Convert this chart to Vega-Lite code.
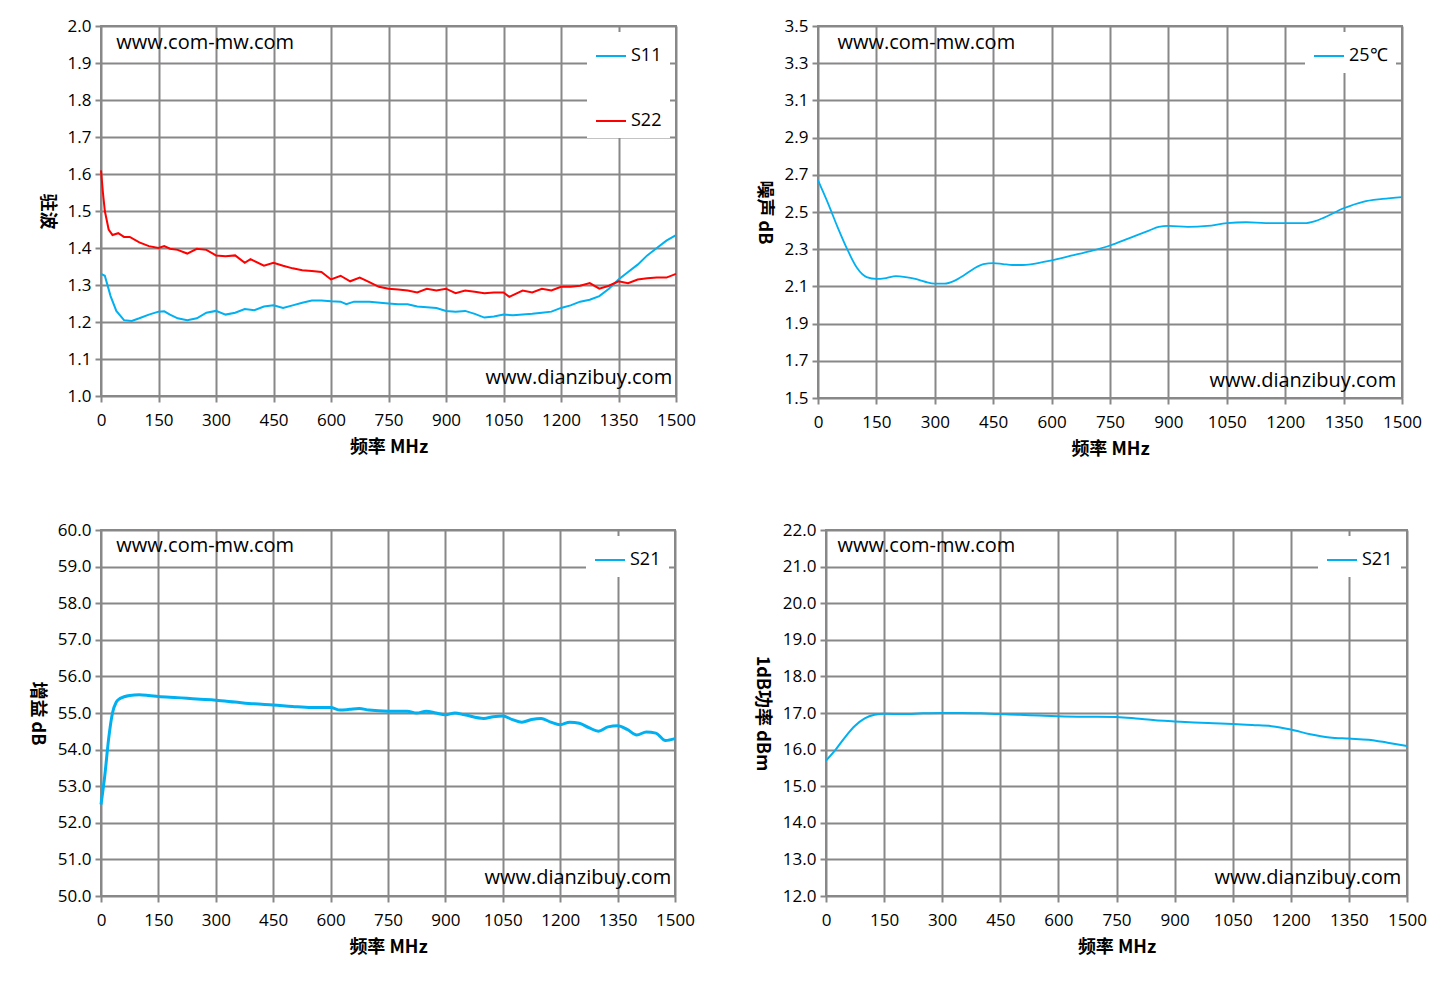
{
  "$schema": "https://vega.github.io/schema/vega-lite/v6.json",
  "background": "white",
  "padding": {"left": 26, "top": 16, "right": 10, "bottom": 5},
  "config": {
    "view": {"stroke": "#888", "strokeWidth": 2},
    "axis": {
      "grid": true, "gridColor": "#888", "gridWidth": 2, "domain": false,
      "tickColor": "#888", "tickSize": 6, "tickWidth": 2,
      "labelFont": "Open Sans", "labelFontSize": 17, "labelColor": "#000", "labelPadding": 4,
      "titleFont": "Noto Sans CJK SC", "titleFontSize": 18, "titleFontWeight": "bold", "titleColor": "#000"
    },
    "axisX": {"titlePadding": 10, "labelOverlap": false, "labelFlush": false, "labelPadding": 10, "format": "d", "labelFontSize": 17},
    "axisY": {"titleAngle": 90, "titleBaseline": "top", "titlePadding": 12},
    "legend": {
      "orient": "top-right", "title": null, "fillColor": "white", "padding": 8, "offset": 6,
      "symbolType": "stroke", "symbolSize": 900, "symbolStrokeWidth": 2,
      "labelFont": "Open Sans", "labelFontSize": 18, "labelColor": "#000"
    },
    "text": {"font": "Open Sans", "fontSize": 20, "color": "#000"}
  },
  "datasets": {
    "vswr": [
      {"f":0,"v":1.33,"s":"S11"},{"f":10,"v":1.325,"s":"S11"},{"f":25,"v":1.27,"s":"S11"},{"f":40,"v":1.23,"s":"S11"},{"f":60,"v":1.205,"s":"S11"},{"f":80,"v":1.203,"s":"S11"},{"f":100,"v":1.21,"s":"S11"},{"f":125,"v":1.22,"s":"S11"},{"f":150,"v":1.228,"s":"S11"},{"f":165,"v":1.229,"s":"S11"},{"f":180,"v":1.22,"s":"S11"},{"f":200,"v":1.21,"s":"S11"},{"f":225,"v":1.205,"s":"S11"},{"f":250,"v":1.21,"s":"S11"},{"f":275,"v":1.225,"s":"S11"},{"f":300,"v":1.23,"s":"S11"},{"f":325,"v":1.22,"s":"S11"},{"f":350,"v":1.225,"s":"S11"},{"f":375,"v":1.235,"s":"S11"},{"f":400,"v":1.232,"s":"S11"},{"f":425,"v":1.242,"s":"S11"},{"f":450,"v":1.245,"s":"S11"},{"f":475,"v":1.238,"s":"S11"},{"f":500,"v":1.245,"s":"S11"},{"f":525,"v":1.252,"s":"S11"},{"f":550,"v":1.258,"s":"S11"},{"f":575,"v":1.258,"s":"S11"},{"f":600,"v":1.256,"s":"S11"},{"f":625,"v":1.255,"s":"S11"},{"f":640,"v":1.248,"s":"S11"},{"f":660,"v":1.255,"s":"S11"},{"f":700,"v":1.255,"s":"S11"},{"f":750,"v":1.25,"s":"S11"},{"f":775,"v":1.248,"s":"S11"},{"f":800,"v":1.248,"s":"S11"},{"f":825,"v":1.242,"s":"S11"},{"f":850,"v":1.24,"s":"S11"},{"f":875,"v":1.238,"s":"S11"},{"f":900,"v":1.23,"s":"S11"},{"f":925,"v":1.228,"s":"S11"},{"f":950,"v":1.23,"s":"S11"},{"f":975,"v":1.222,"s":"S11"},{"f":1000,"v":1.212,"s":"S11"},{"f":1025,"v":1.215,"s":"S11"},{"f":1050,"v":1.22,"s":"S11"},{"f":1075,"v":1.218,"s":"S11"},{"f":1100,"v":1.22,"s":"S11"},{"f":1125,"v":1.222,"s":"S11"},{"f":1150,"v":1.225,"s":"S11"},{"f":1175,"v":1.228,"s":"S11"},{"f":1200,"v":1.238,"s":"S11"},{"f":1225,"v":1.245,"s":"S11"},{"f":1250,"v":1.255,"s":"S11"},{"f":1275,"v":1.26,"s":"S11"},{"f":1300,"v":1.27,"s":"S11"},{"f":1325,"v":1.29,"s":"S11"},{"f":1350,"v":1.315,"s":"S11"},{"f":1375,"v":1.335,"s":"S11"},{"f":1400,"v":1.355,"s":"S11"},{"f":1425,"v":1.38,"s":"S11"},{"f":1450,"v":1.4,"s":"S11"},{"f":1475,"v":1.42,"s":"S11"},{"f":1500,"v":1.435,"s":"S11"},
      {"f":0,"v":1.61,"s":"S22"},{"f":5,"v":1.55,"s":"S22"},{"f":10,"v":1.5,"s":"S22"},{"f":20,"v":1.45,"s":"S22"},{"f":30,"v":1.435,"s":"S22"},{"f":45,"v":1.44,"s":"S22"},{"f":60,"v":1.43,"s":"S22"},{"f":75,"v":1.43,"s":"S22"},{"f":100,"v":1.415,"s":"S22"},{"f":125,"v":1.405,"s":"S22"},{"f":150,"v":1.4,"s":"S22"},{"f":165,"v":1.405,"s":"S22"},{"f":180,"v":1.398,"s":"S22"},{"f":200,"v":1.395,"s":"S22"},{"f":225,"v":1.385,"s":"S22"},{"f":250,"v":1.398,"s":"S22"},{"f":275,"v":1.395,"s":"S22"},{"f":300,"v":1.38,"s":"S22"},{"f":325,"v":1.378,"s":"S22"},{"f":350,"v":1.38,"s":"S22"},{"f":375,"v":1.36,"s":"S22"},{"f":390,"v":1.37,"s":"S22"},{"f":425,"v":1.352,"s":"S22"},{"f":450,"v":1.36,"s":"S22"},{"f":475,"v":1.352,"s":"S22"},{"f":500,"v":1.345,"s":"S22"},{"f":525,"v":1.34,"s":"S22"},{"f":550,"v":1.338,"s":"S22"},{"f":575,"v":1.335,"s":"S22"},{"f":600,"v":1.315,"s":"S22"},{"f":625,"v":1.325,"s":"S22"},{"f":650,"v":1.31,"s":"S22"},{"f":675,"v":1.32,"s":"S22"},{"f":700,"v":1.308,"s":"S22"},{"f":725,"v":1.295,"s":"S22"},{"f":750,"v":1.29,"s":"S22"},{"f":775,"v":1.288,"s":"S22"},{"f":800,"v":1.285,"s":"S22"},{"f":825,"v":1.28,"s":"S22"},{"f":850,"v":1.29,"s":"S22"},{"f":875,"v":1.285,"s":"S22"},{"f":900,"v":1.29,"s":"S22"},{"f":925,"v":1.278,"s":"S22"},{"f":950,"v":1.285,"s":"S22"},{"f":975,"v":1.282,"s":"S22"},{"f":1000,"v":1.278,"s":"S22"},{"f":1025,"v":1.28,"s":"S22"},{"f":1050,"v":1.28,"s":"S22"},{"f":1065,"v":1.268,"s":"S22"},{"f":1100,"v":1.285,"s":"S22"},{"f":1125,"v":1.28,"s":"S22"},{"f":1150,"v":1.29,"s":"S22"},{"f":1175,"v":1.285,"s":"S22"},{"f":1200,"v":1.295,"s":"S22"},{"f":1225,"v":1.295,"s":"S22"},{"f":1250,"v":1.298,"s":"S22"},{"f":1275,"v":1.305,"s":"S22"},{"f":1300,"v":1.29,"s":"S22"},{"f":1325,"v":1.298,"s":"S22"},{"f":1350,"v":1.31,"s":"S22"},{"f":1375,"v":1.305,"s":"S22"},{"f":1400,"v":1.315,"s":"S22"},{"f":1425,"v":1.318,"s":"S22"},{"f":1450,"v":1.32,"s":"S22"},{"f":1475,"v":1.32,"s":"S22"},{"f":1500,"v":1.33,"s":"S22"}
    ],
    "noise": [
      {"f":0,"v":2.67,"s":"25℃"},{"f":25,"v":2.55,"s":"25℃"},{"f":50,"v":2.42,"s":"25℃"},{"f":75,"v":2.3,"s":"25℃"},{"f":100,"v":2.2,"s":"25℃"},{"f":125,"v":2.15,"s":"25℃"},{"f":150,"v":2.14,"s":"25℃"},{"f":175,"v":2.145,"s":"25℃"},{"f":200,"v":2.155,"s":"25℃"},{"f":225,"v":2.15,"s":"25℃"},{"f":250,"v":2.14,"s":"25℃"},{"f":275,"v":2.125,"s":"25℃"},{"f":300,"v":2.115,"s":"25℃"},{"f":325,"v":2.115,"s":"25℃"},{"f":350,"v":2.13,"s":"25℃"},{"f":375,"v":2.16,"s":"25℃"},{"f":400,"v":2.195,"s":"25℃"},{"f":425,"v":2.22,"s":"25℃"},{"f":450,"v":2.225,"s":"25℃"},{"f":475,"v":2.22,"s":"25℃"},{"f":500,"v":2.215,"s":"25℃"},{"f":525,"v":2.215,"s":"25℃"},{"f":550,"v":2.22,"s":"25℃"},{"f":600,"v":2.24,"s":"25℃"},{"f":650,"v":2.265,"s":"25℃"},{"f":700,"v":2.29,"s":"25℃"},{"f":750,"v":2.32,"s":"25℃"},{"f":800,"v":2.36,"s":"25℃"},{"f":850,"v":2.4,"s":"25℃"},{"f":875,"v":2.42,"s":"25℃"},{"f":900,"v":2.425,"s":"25℃"},{"f":950,"v":2.42,"s":"25℃"},{"f":1000,"v":2.425,"s":"25℃"},{"f":1050,"v":2.44,"s":"25℃"},{"f":1100,"v":2.445,"s":"25℃"},{"f":1150,"v":2.44,"s":"25℃"},{"f":1200,"v":2.44,"s":"25℃"},{"f":1250,"v":2.44,"s":"25℃"},{"f":1275,"v":2.45,"s":"25℃"},{"f":1300,"v":2.47,"s":"25℃"},{"f":1350,"v":2.52,"s":"25℃"},{"f":1400,"v":2.555,"s":"25℃"},{"f":1450,"v":2.57,"s":"25℃"},{"f":1500,"v":2.58,"s":"25℃"}
    ],
    "gain": [
      {"f":0,"v":52.5,"s":"S21"},{"f":10,"v":53.3,"s":"S21"},{"f":20,"v":54.3,"s":"S21"},{"f":30,"v":55.0,"s":"S21"},{"f":40,"v":55.3,"s":"S21"},{"f":50,"v":55.4,"s":"S21"},{"f":75,"v":55.48,"s":"S21"},{"f":100,"v":55.5,"s":"S21"},{"f":125,"v":55.48,"s":"S21"},{"f":150,"v":55.45,"s":"S21"},{"f":200,"v":55.42,"s":"S21"},{"f":250,"v":55.38,"s":"S21"},{"f":300,"v":55.35,"s":"S21"},{"f":350,"v":55.3,"s":"S21"},{"f":400,"v":55.25,"s":"S21"},{"f":450,"v":55.22,"s":"S21"},{"f":500,"v":55.18,"s":"S21"},{"f":550,"v":55.15,"s":"S21"},{"f":600,"v":55.15,"s":"S21"},{"f":625,"v":55.08,"s":"S21"},{"f":650,"v":55.1,"s":"S21"},{"f":675,"v":55.12,"s":"S21"},{"f":700,"v":55.08,"s":"S21"},{"f":750,"v":55.05,"s":"S21"},{"f":800,"v":55.05,"s":"S21"},{"f":825,"v":55.0,"s":"S21"},{"f":850,"v":55.05,"s":"S21"},{"f":875,"v":55.0,"s":"S21"},{"f":900,"v":54.95,"s":"S21"},{"f":925,"v":55.0,"s":"S21"},{"f":950,"v":54.95,"s":"S21"},{"f":1000,"v":54.85,"s":"S21"},{"f":1025,"v":54.9,"s":"S21"},{"f":1050,"v":54.92,"s":"S21"},{"f":1075,"v":54.82,"s":"S21"},{"f":1100,"v":54.75,"s":"S21"},{"f":1125,"v":54.82,"s":"S21"},{"f":1150,"v":54.85,"s":"S21"},{"f":1175,"v":54.75,"s":"S21"},{"f":1200,"v":54.68,"s":"S21"},{"f":1225,"v":54.75,"s":"S21"},{"f":1250,"v":54.72,"s":"S21"},{"f":1275,"v":54.6,"s":"S21"},{"f":1300,"v":54.5,"s":"S21"},{"f":1325,"v":54.62,"s":"S21"},{"f":1350,"v":54.65,"s":"S21"},{"f":1375,"v":54.55,"s":"S21"},{"f":1400,"v":54.4,"s":"S21"},{"f":1425,"v":54.48,"s":"S21"},{"f":1450,"v":54.45,"s":"S21"},{"f":1475,"v":54.25,"s":"S21"},{"f":1500,"v":54.3,"s":"S21"}
    ],
    "p1db": [
      {"f":0,"v":15.7,"s":"S21"},{"f":25,"v":16.0,"s":"S21"},{"f":50,"v":16.35,"s":"S21"},{"f":75,"v":16.65,"s":"S21"},{"f":100,"v":16.85,"s":"S21"},{"f":125,"v":16.95,"s":"S21"},{"f":150,"v":16.98,"s":"S21"},{"f":200,"v":16.97,"s":"S21"},{"f":250,"v":16.99,"s":"S21"},{"f":300,"v":17.0,"s":"S21"},{"f":350,"v":17.0,"s":"S21"},{"f":400,"v":16.99,"s":"S21"},{"f":450,"v":16.97,"s":"S21"},{"f":500,"v":16.95,"s":"S21"},{"f":550,"v":16.93,"s":"S21"},{"f":600,"v":16.91,"s":"S21"},{"f":650,"v":16.9,"s":"S21"},{"f":700,"v":16.9,"s":"S21"},{"f":750,"v":16.89,"s":"S21"},{"f":800,"v":16.85,"s":"S21"},{"f":850,"v":16.8,"s":"S21"},{"f":900,"v":16.77,"s":"S21"},{"f":950,"v":16.74,"s":"S21"},{"f":1000,"v":16.72,"s":"S21"},{"f":1050,"v":16.7,"s":"S21"},{"f":1100,"v":16.67,"s":"S21"},{"f":1150,"v":16.64,"s":"S21"},{"f":1200,"v":16.55,"s":"S21"},{"f":1250,"v":16.42,"s":"S21"},{"f":1300,"v":16.33,"s":"S21"},{"f":1350,"v":16.3,"s":"S21"},{"f":1400,"v":16.27,"s":"S21"},{"f":1450,"v":16.19,"s":"S21"},{"f":1500,"v":16.1,"s":"S21"}
    ]
  },
  "vconcat": [
    {
      "hconcat": [
        {
          "width": 575, "height": 370,
          "encoding": {
            "x": {"field": "f", "type": "quantitative", "scale": {"domain": [0, 1500], "nice": false}, "title": "频率 MHz", "axis": {"values": [0,150,300,450,600,750,900,1050,1200,1350,1500]}},
            "y": {"field": "v", "type": "quantitative", "scale": {"domain": [1.0, 2.0], "nice": false}, "title": "驻波", "axis": {"values": [1.0,1.1,1.2,1.3,1.4,1.5,1.6,1.7,1.8,1.9,2.0], "format": ".1f"}}
          },
          "layer": [
            {
              "data": {"name": "vswr"},
              "mark": {"type": "line", "strokeWidth": 2},
              "encoding": {
                "color": {"field": "s", "type": "nominal", "scale": {"domain": ["S11", "S22"], "range": ["#00B0F0", "#FF0000"]}, "legend": {"rowPadding": 40}}
              }
            },
            {
              "data": {"values": [{"f": 40, "v": 1.955, "t": "www.com-mw.com"}]},
              "mark": {"type": "text", "align": "left"},
              "encoding": {"text": {"field": "t"}}
            },
            {
              "data": {"values": [{"f": 1490, "v": 1.05, "t": "www.dianzibuy.com"}]},
              "mark": {"type": "text", "align": "right"},
              "encoding": {"text": {"field": "t"}}
            }
          ]
        },
        {
          "width": 584, "height": 372,
          "encoding": {
            "x": {"field": "f", "type": "quantitative", "scale": {"domain": [0, 1500], "nice": false}, "title": "频率 MHz", "axis": {"values": [0,150,300,450,600,750,900,1050,1200,1350,1500]}},
            "y": {"field": "v", "type": "quantitative", "scale": {"domain": [1.5, 3.5], "nice": false}, "title": "噪声 dB", "axis": {"values": [1.5,1.7,1.9,2.1,2.3,2.5,2.7,2.9,3.1,3.3,3.5], "format": ".1f"}}
          },
          "layer": [
            {
              "data": {"name": "noise"},
              "mark": {"type": "line", "interpolate": "monotone", "strokeWidth": 1.8},
              "encoding": {
                "color": {"field": "s", "type": "nominal", "scale": {"range": ["#00B0F0"]}}
              }
            },
            {
              "data": {"values": [{"f": 50, "v": 3.41, "t": "www.com-mw.com"}]},
              "mark": {"type": "text", "align": "left"},
              "encoding": {"text": {"field": "t"}}
            },
            {
              "data": {"values": [{"f": 1485, "v": 1.59, "t": "www.dianzibuy.com"}]},
              "mark": {"type": "text", "align": "right"},
              "encoding": {"text": {"field": "t"}}
            }
          ]
        }
      ],
      "spacing": 56,
      "resolve": {"scale": {"color": "independent"}, "legend": {"color": "independent"}}
    },
    {
      "hconcat": [
        {
          "width": 574, "height": 366,
          "encoding": {
            "x": {"field": "f", "type": "quantitative", "scale": {"domain": [0, 1500], "nice": false}, "title": "频率 MHz", "axis": {"values": [0,150,300,450,600,750,900,1050,1200,1350,1500]}},
            "y": {"field": "v", "type": "quantitative", "scale": {"domain": [50, 60], "nice": false}, "title": "增益 dB", "axis": {"values": [50,51,52,53,54,55,56,57,58,59,60], "format": ".1f"}}
          },
          "layer": [
            {
              "data": {"name": "gain"},
              "mark": {"type": "line", "interpolate": "monotone", "strokeWidth": 3},
              "encoding": {
                "color": {"field": "s", "type": "nominal", "scale": {"range": ["#00B0F0"]}}
              }
            },
            {
              "data": {"values": [{"f": 40, "v": 59.55, "t": "www.com-mw.com"}]},
              "mark": {"type": "text", "align": "left"},
              "encoding": {"text": {"field": "t"}}
            },
            {
              "data": {"values": [{"f": 1490, "v": 50.5, "t": "www.dianzibuy.com"}]},
              "mark": {"type": "text", "align": "right"},
              "encoding": {"text": {"field": "t"}}
            }
          ]
        },
        {
          "width": 581, "height": 366,
          "encoding": {
            "x": {"field": "f", "type": "quantitative", "scale": {"domain": [0, 1500], "nice": false}, "title": "频率 MHz", "axis": {"values": [0,150,300,450,600,750,900,1050,1200,1350,1500]}},
            "y": {"field": "v", "type": "quantitative", "scale": {"domain": [12, 22], "nice": false}, "title": "1dB功率 dBm", "axis": {"values": [12,13,14,15,16,17,18,19,20,21,22], "format": ".1f"}}
          },
          "layer": [
            {
              "data": {"name": "p1db"},
              "mark": {"type": "line", "interpolate": "monotone", "strokeWidth": 2},
              "encoding": {
                "color": {"field": "s", "type": "nominal", "scale": {"range": ["#00B0F0"]}}
              }
            },
            {
              "data": {"values": [{"f": 30, "v": 21.55, "t": "www.com-mw.com"}]},
              "mark": {"type": "text", "align": "left"},
              "encoding": {"text": {"field": "t"}}
            },
            {
              "data": {"values": [{"f": 1485, "v": 12.5, "t": "www.dianzibuy.com"}]},
              "mark": {"type": "text", "align": "right"},
              "encoding": {"text": {"field": "t"}}
            }
          ]
        }
      ],
      "spacing": 55,
      "resolve": {"scale": {"color": "independent"}, "legend": {"color": "independent"}}
    }
  ],
  "spacing": 61,
  "resolve": {"scale": {"color": "independent"}, "legend": {"color": "independent"}}
}
